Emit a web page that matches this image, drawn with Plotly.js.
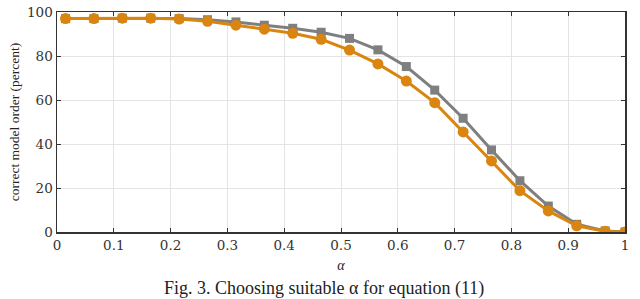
<!DOCTYPE html>
<html>
<head>
<meta charset="utf-8">
<script src="https://cdn.plot.ly/plotly-3.0.1.min.js"></script>
<style>html,body{margin:0;padding:0;background:#fff;}#chart{width:640px;height:299px;}</style>
</head>
<body>
<div id="chart"></div>
<script>
const alphaValues = [0.015,0.065,0.115,0.165,0.215,0.265,0.315,0.365,0.415,0.465,0.515,0.565,0.615,0.665,0.715,0.765,0.815,0.865,0.915,0.965,1.0];
const graySeries = [97,97,97.2,97.2,97,96.5,95.5,94,92.6,90.8,88,82.8,75.2,64.5,51.7,37.3,23.3,11.8,3.5,0.5,0];
const orangeSeries = [97,97,97.2,97.2,96.8,95.8,94,92.2,90.3,87.6,82.7,76.4,68.6,58.8,45.5,32.3,18.8,9.6,2.8,0.3,0];
const xTicks = [0,0.1,0.2,0.3,0.4,0.5,0.6,0.7,0.8,0.9,1];
const xTickLabels = ['0','0.1','0.2','0.3','0.4','0.5','0.6','0.7','0.8','0.9','1'];
const yTicks = [0,20,40,60,80,100];
const yLabel = 'correct model order (percent)';
const xLabel = 'α';
const caption = 'Fig. 3. Choosing suitable α for equation (11)';

const serif = 'Liberation Serif, DejaVu Serif, serif';
const tickSerif = 'DejaVu Serif, Liberation Serif, serif';
const traces = [
  {x: alphaValues, y: graySeries, mode: 'lines+markers', type: 'scatter',
   line: {color: '#7f7f7f', width: 3}, marker: {symbol: 'square', size: 9, color: '#7f7f7f'}},
  {x: alphaValues, y: orangeSeries, mode: 'lines+markers', type: 'scatter',
   line: {color: '#d9850f', width: 3}, marker: {symbol: 'circle', size: 11, color: '#d9850f'}}
];
const axisCommon = {
  showline: true, mirror: 'ticks', linecolor: '#333', linewidth: 1.5,
  ticks: 'inside', ticklen: 4, tickcolor: '#333', tickwidth: 1,
  showgrid: true, gridcolor: '#e4e4e4', gridwidth: 1, zeroline: false,
  tickfont: {family: tickSerif, size: 13.5, color: '#333'}
};
const layout = {
  width: 640, height: 299,
  margin: {l: 57, r: 15, t: 12, b: 67},
  paper_bgcolor: '#fff', plot_bgcolor: '#fff',
  showlegend: false,
  xaxis: Object.assign({}, axisCommon, {
    range: [0, 1], tickvals: xTicks, ticktext: xTickLabels,
    title: {text: '<i>' + xLabel + '</i>', font: {family: serif, size: 14, color: '#222'}, standoff: 8}
  }),
  yaxis: Object.assign({}, axisCommon, {
    range: [0, 100], tickvals: yTicks,
    title: {text: yLabel, font: {family: serif, size: 13.5, color: '#222'}, standoff: 4}
  }),
  annotations: [{
    text: caption, xref: 'paper', yref: 'paper', x: 0.47, y: -0.2,
    xanchor: 'center', yanchor: 'top', showarrow: false,
    font: {family: serif, size: 18, color: '#222'}
  }]
};
Plotly.newPlot('chart', traces, layout, {displayModeBar: false, staticPlot: true});
</script>
</body>
</html>
